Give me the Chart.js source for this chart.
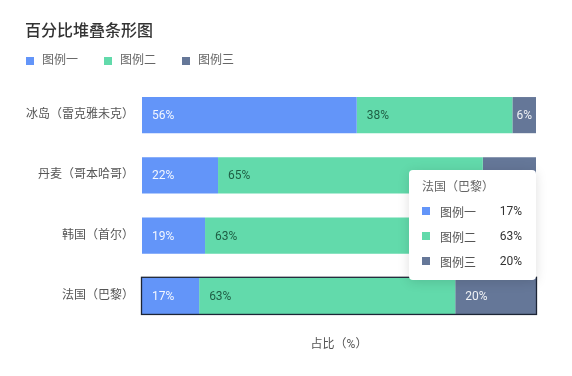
<!DOCTYPE html>
<html>
<head>
<meta charset="utf-8">
<script src="https://cdn.jsdelivr.net/npm/chart.js@4.4.1/dist/chart.umd.min.js"></script>
<style>
  html, body { margin: 0; padding: 0; background: #fff; }
  #wrap { position: relative; width: 572px; height: 376px; }
  #tip {
    position: absolute; width: 127px; height: 110px; box-sizing: border-box;
    padding: 9px 14px 0 13px; background: #fff; border-radius: 4px;
    box-shadow: 0 2px 12px rgba(0, 0, 0, 0.13); pointer-events: none; opacity: 0;
    font: 12px Roboto, "Noto Sans CJK SC", sans-serif;
  }
  #tip .t { color: #666; line-height: 16px; margin-bottom: 4px; }
  #tip .r { display: flex; align-items: center; height: 25px; }
  #tip .sw { width: 8px; height: 8px; margin-right: 10px; }
  #tip .n { color: #555; flex: 1; }
  #tip .v { color: #333; }
</style>
</head>
<body>
<div id="wrap">
  <canvas id="c" width="572" height="376"></canvas>
  <div id="tip"></div>
</div>
<script>
  // 카테고리 / 시리즈
  const categories = ['冰岛（雷克雅未克）', '丹麦（哥本哈哥）', '韩国（首尔）', '法国（巴黎）'];
  const seriesNames = ['图例一', '图例二', '图例三'];
  const seriesColors = ['#6395F9', '#62DAAB', '#657798'];

  // 막대 길이 (그림에서 읽은 비율 %)
  const barOne = [54.5, 19.3, 16.0, 14.5];
  const barTwo = [39.5, 67.2, 65.5, 65.0];
  const barThree = [6.0, 13.5, 18.5, 20.5];

  // 막대 위에 찍힌 퍼센트 텍스트
  const labelOne = [56, 22, 19, 17];
  const labelTwo = [38, 65, 63, 63];
  const labelThree = [6, 13, 18, 20];

  const xMin = 0, xMax = 100;
  const chartTitle = '百分比堆叠条形图';
  const axisTitle = '占比（%）';
  const activeIndex = 3; // 툴팁이 떠 있는 행

  const FONT = 'Roboto, "Noto Sans CJK SC", sans-serif';
  Chart.defaults.font.family = FONT;

  const labelColors = ['rgba(255,255,255,0.92)', '#1f5f45', 'rgba(255,255,255,0.9)'];

  // 막대 안쪽 왼쪽 정렬 라벨
  const barLabels = {
    id: 'barLabels',
    afterDatasetsDraw(chart) {
      const ctx = chart.ctx;
      ctx.save();
      ctx.font = '12px ' + FONT;
      ctx.textBaseline = 'middle';
      chart.data.datasets.forEach((ds, di) => {
        chart.getDatasetMeta(di).data.forEach((bar, i) => {
          const txt = ds.printed[i] + '%';
          const w = bar.x - bar.base;
          const tw = ctx.measureText(txt).width;
          const pad = Math.min(10, (w - tw) / 2);
          if (pad < 2) return;
          ctx.fillStyle = ds.labelColor;
          ctx.fillText(txt, bar.base + pad, bar.y + 1);
        });
      });
      ctx.restore();
    }
  };

  // 활성 행 전체 외곽선
  const rowOutline = {
    id: 'rowOutline',
    afterDatasetsDraw(chart) {
      const act = chart.tooltip ? chart.tooltip.getActiveElements() : [];
      if (!act.length) return;
      const i = act[0].index;
      const n = chart.data.datasets.length;
      const first = chart.getDatasetMeta(0).data[i];
      const last = chart.getDatasetMeta(n - 1).data[i];
      const ctx = chart.ctx;
      ctx.save();
      ctx.strokeStyle = '#1d2535';
      ctx.lineWidth = 1.3;
      ctx.strokeRect(first.base - 0.5, first.y - first.height / 2 - 0.5, last.x - first.base + 1, first.height + 1);
      ctx.restore();
    }
  };

  // 제목/범례 위치 보정
  const headerNudge = {
    id: 'headerNudge',
    afterLayout(chart) {
      chart.titleBlock.left = 25;
      chart.titleBlock.top += 1;
      const lg = chart.legend;
      const h = lg.bottom - lg.top;
      lg.top = 31;
      lg.bottom = lg.top + h;
    }
  };

  function externalTip(context) {
    const { chart, tooltip } = context;
    const el = document.getElementById('tip');
    if (tooltip.opacity === 0 || !tooltip.dataPoints || !tooltip.dataPoints.length) { el.style.opacity = 0; return; }
    let html = '<div class="t">' + tooltip.title[0] + '</div>';
    tooltip.dataPoints.forEach(p => {
      const ds = chart.data.datasets[p.datasetIndex];
      html += '<div class="r"><span class="sw" style="background:' + ds.backgroundColor + '"></span>' +
        '<span class="n">' + ds.label + '</span><span class="v">' + ds.printed[p.dataIndex] + '%</span></div>';
    });
    el.innerHTML = html;
    el.style.left = (chart.chartArea.right - 127) + 'px';
    el.style.top = (tooltip.caretY - 126) + 'px';
    el.style.opacity = 1;
  }

  const bars = [barOne, barTwo, barThree];
  const printed = [labelOne, labelTwo, labelThree];

  const chart = new Chart(document.getElementById('c'), {
    type: 'bar',
    data: {
      labels: categories,
      datasets: seriesNames.map((name, k) => ({
        label: name,
        data: bars[k],
        printed: printed[k],
        labelColor: labelColors[k],
        backgroundColor: seriesColors[k],
        hoverBackgroundColor: seriesColors[k],
        borderWidth: 0,
        categoryPercentage: 0.6,
        barPercentage: 1,
      })),
    },
    options: {
      indexAxis: 'y',
      responsive: false,
      animation: false,
      events: [],
      layout: { padding: { top: 23, left: 0, right: 36, bottom: 19.6 } },
      plugins: {
        title: {
          display: true, text: chartTitle, align: 'start', color: '#333',
          font: { size: 16, weight: '500', lineHeight: 1 }, padding: 0,
        },
        legend: {
          align: 'start',
          labels: {
            usePointStyle: true, pointStyle: 'rect', boxWidth: 12, boxHeight: 8,
            padding: 24, color: '#666', font: { size: 12 },
          },
        },
        tooltip: { enabled: false, mode: 'index', external: externalTip },
      },
      scales: {
        x: {
          stacked: true, min: xMin, max: xMax,
          ticks: { display: false },
          grid: { display: false, drawTicks: false },
          border: { display: false },
          title: { display: true, text: axisTitle, color: '#555', font: { size: 12 }, padding: { top: 12, bottom: 4 } },
        },
        y: {
          stacked: true,
          ticks: { color: '#555', font: { size: 12 }, padding: 8 },
          grid: { display: false, drawTicks: false },
          border: { display: false },
          afterFit: s => { s.width = 142; },
        },
      },
    },
    plugins: [headerNudge, rowOutline, barLabels],
  });

  chart.tooltip.setActiveElements(
    seriesNames.map((_, k) => ({ datasetIndex: k, index: activeIndex })),
    { x: 0, y: 0 }
  );
  chart.draw();
</script>
</body>
</html>
